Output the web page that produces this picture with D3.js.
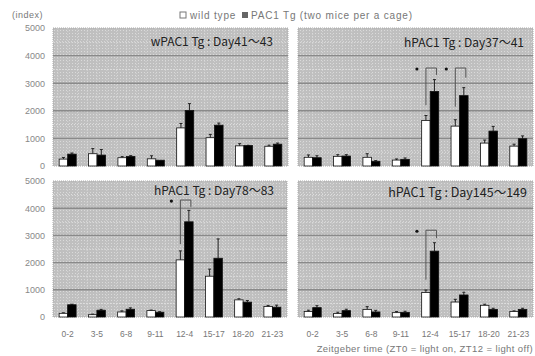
<!DOCTYPE html>
<html><head><meta charset="utf-8">
<script src="https://cdn.jsdelivr.net/npm/d3@7"></script>
<style>body{margin:0;background:#fff;} svg{display:block;}</style>
</head><body>
<svg id="chart" width="535" height="356"></svg>
<script>
const categories = ["0-2","3-5","6-8","9-11","12-4","15-17","18-20","21-23"];
const yTicks = [0,1000,2000,3000,4000,5000];

const wt_d41 = [250,445,300,260,1380,1025,730,715];
const wtErr_d41 = [60,185,40,110,160,120,80,40];
const tg_d41 = [430,395,345,210,2010,1480,740,790];
const tgErr_d41 = [40,200,30,0,250,75,10,40];

const wt_d37 = [315,350,315,215,1650,1445,830,720];
const wtErr_d37 = [85,60,130,40,180,230,110,70];
const tg_d37 = [300,360,170,240,2700,2550,1265,990];
const tgErr_d37 = [70,50,25,50,430,290,170,100];

const wt_d78 = [135,85,185,235,2100,1500,630,385];
const wtErr_d78 = [20,20,40,20,330,260,40,40];
const tg_d78 = [450,250,285,175,3500,2160,545,360];
const tgErr_d78 = [20,30,50,20,420,710,60,75];

const wt_d145 = [200,125,280,160,900,550,430,200];
const wtErr_d145 = [50,50,100,40,90,100,40,25];
const tg_d145 = [345,235,185,170,2420,810,280,280];
const tgErr_d145 = [70,50,60,40,310,100,40,40];

const titles = ["wPAC1 Tg : Day41～43","hPAC1 Tg : Day37～41","hPAC1 Tg : Day78～83","hPAC1 Tg : Day145～149"];
const brackets_d41 = [];
const brackets_d37 = [{cat:"12-4",top:3550,low1:2200,low2:3300},{cat:"15-17",top:3550,low1:2150,low2:3200}];
const brackets_d78 = [{cat:"12-4",top:4300,low1:2680,low2:4050}];
const brackets_d145 = [{cat:"12-4",top:3190,low1:1370,low2:2900}];

const panels = [
  {x0:53,x1:288,y0:28,y1:166,wt:wt_d41,wtE:wtErr_d41,tg:tg_d41,tgE:tgErr_d41,title:titles[0],br:brackets_d41,yAxis:true,xAxis:false,tx:273,ty:46,fs:12},
  {x0:298,x1:533,y0:28,y1:166,wt:wt_d37,wtE:wtErr_d37,tg:tg_d37,tgE:tgErr_d37,title:titles[1],br:brackets_d37,yAxis:false,xAxis:false,tx:524,ty:47,fs:12},
  {x0:53,x1:287,y0:181,y1:317,wt:wt_d78,wtE:wtErr_d78,tg:tg_d78,tgE:tgErr_d78,title:titles[2],br:brackets_d78,yAxis:true,xAxis:true,tx:274,ty:195,fs:12},
  {x0:298,x1:533,y0:181,y1:317,wt:wt_d145,wtE:wtErr_d145,tg:tg_d145,tgE:tgErr_d145,title:titles[3],br:brackets_d145,yAxis:false,xAxis:true,tx:527,ty:197,fs:12.5}
];

const svg = d3.select("#chart");
const defs = svg.append("defs");
const pat = defs.append("pattern").attr("id","tex").attr("patternUnits","userSpaceOnUse")
  .attr("width",3).attr("height",3);
pat.append("rect").attr("width",3).attr("height",3).attr("fill","#bfbfbf");
pat.append("rect").attr("width",1).attr("height",1).attr("fill","#dadada");

const sans = "'Liberation Sans', Arial, sans-serif";
const cjk = "'Noto Sans CJK JP', sans-serif";

panels.forEach(p => {
  const g = svg.append("g");
  const x = d3.scaleBand().domain(categories).range([p.x0,p.x1]).paddingInner(0.42).paddingOuter(0.21);
  const xs = d3.scaleBand().domain(["wt","tg"]).range([0,x.bandwidth()]);
  const y = d3.scaleLinear().domain([0,5000]).range([p.y1,p.y0]);

  g.append("rect").attr("x",p.x0).attr("y",p.y0).attr("width",p.x1-p.x0).attr("height",p.y1-p.y0)
    .attr("fill","url(#tex)").attr("stroke","#aaa").attr("stroke-dasharray","1,1");

  g.selectAll(".minor").data(d3.range(500,5000,1000)).join("line")
    .attr("x1",p.x0).attr("x2",p.x1).attr("y1",d=>y(d)).attr("y2",d=>y(d))
    .attr("stroke","#e2e2e2").attr("stroke-dasharray","1,2");
  g.selectAll(".vminor").data(d3.range(0,24)).join("line")
    .attr("x1",d=>p.x0+(d+0.5)*(p.x1-p.x0)/24).attr("x2",d=>p.x0+(d+0.5)*(p.x1-p.x0)/24)
    .attr("y1",p.y0).attr("y2",p.y1)
    .attr("stroke","#d8d8d8").attr("stroke-dasharray","1,2").attr("stroke-width",0.8);
  g.selectAll(".grid").data(yTicks.filter(t=>t>0 && t<5000)).join("line")
    .attr("x1",p.x0).attr("x2",p.x1).attr("y1",d=>y(d)).attr("y2",d=>y(d))
    .attr("stroke","#8a8a8a").attr("stroke-width",1.4);

  if (p.yAxis) {
    const ax = g.append("g").attr("transform",`translate(${p.x0-4},0)`)
      .call(d3.axisLeft(y).tickValues(yTicks).tickSize(0).tickPadding(4).tickFormat(d3.format("d")));
    ax.select(".domain").remove();
    ax.selectAll("text").attr("font-family",sans).attr("font-size",9).attr("fill","#888");
  }
  if (p.xAxis) {
    const ax = g.append("g").attr("transform",`translate(0,${p.y1+12})`)
      .call(d3.axisBottom(x).tickSize(0).tickPadding(2));
    ax.select(".domain").remove();
    ax.selectAll("text").attr("font-family",sans).attr("font-size",8.5).attr("fill","#777");
  }

  const rows = categories.map((c,i)=>({c, wt:p.wt[i], wtE:p.wtE[i], tg:p.tg[i], tgE:p.tgE[i]}));
  rows.forEach(r => {
    [["wt",r.wt,r.wtE,"#fff"],["tg",r.tg,r.tgE,"#000"]].forEach(([k,v,e,fill]) => {
      const bx = x(r.c)+xs(k);
      const cx = bx + xs.bandwidth()/2;
      if (e>0) {
        g.append("line").attr("x1",cx).attr("x2",cx).attr("y1",y(v)).attr("y2",y(v+e)).attr("stroke","#222").attr("stroke-width",1);
        g.append("line").attr("x1",cx-1.5).attr("x2",cx+1.5).attr("y1",y(v+e)).attr("y2",y(v+e)).attr("stroke","#222").attr("stroke-width",1);
      }
      g.append("rect").attr("x",bx).attr("y",y(v)).attr("width",xs.bandwidth()).attr("height",y(0)-y(v))
        .attr("fill",fill).attr("stroke","#111").attr("stroke-width",0.8);
    });
  });

  p.br.forEach(b => {
    const l = x(b.cat)+xs("wt")+xs.bandwidth()/2;
    const r = x(b.cat)+xs("tg")+xs.bandwidth()/2 + 2;
    g.append("path").attr("d",`M${l},${y(b.low1)}V${y(b.top)}H${r}V${y(b.low2)}`)
      .attr("fill","none").attr("stroke","#555").attr("stroke-width",1);
    g.append("circle").attr("cx",l-9).attr("cy",y(b.top)+1).attr("r",1.6).attr("fill","#111");
  });

  g.append("text").attr("x",p.tx).attr("y",p.ty).attr("text-anchor","end")
    .attr("font-family",cjk).attr("font-size",p.fs).attr("fill","#222").text(p.title);
});

svg.append("text").attr("x",12).attr("y",18).attr("font-family",sans).attr("font-size",9).attr("fill","#777").attr("letter-spacing",0.5).text("(index)");
const leg = svg.append("g");
leg.append("rect").attr("x",180).attr("y",12).attr("width",6).attr("height",6).attr("fill","#fff").attr("stroke","#777");
leg.append("text").attr("x",190).attr("y",19).attr("font-family",sans).attr("font-size",10).attr("fill","#777").attr("letter-spacing",0.8).text("wild type");
leg.append("rect").attr("x",242).attr("y",12).attr("width",6).attr("height",6).attr("fill","#666");
leg.append("text").attr("x",251).attr("y",19).attr("font-family",sans).attr("font-size",10).attr("fill","#777").attr("letter-spacing",0.8).text("PAC1 Tg  (two mice per a cage)");

svg.append("text").attr("x",533).attr("y",352).attr("text-anchor","end").attr("font-family",sans).attr("font-size",9.5).attr("fill","#777").attr("letter-spacing",0.4)
  .text("Zeitgeber time (ZT0 = light on,  ZT12 = light off)");
</script>
</body></html>
